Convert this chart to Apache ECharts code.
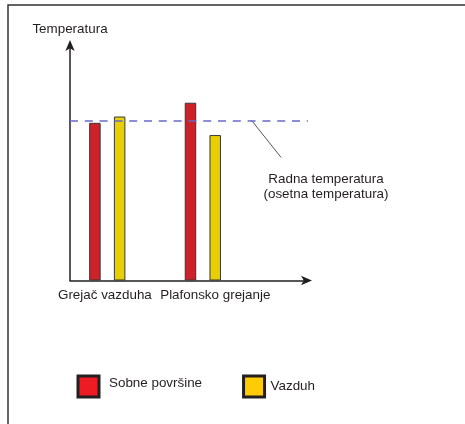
<!DOCTYPE html>
<html>
<head>
<meta charset="utf-8">
<script src="https://cdn.jsdelivr.net/npm/echarts@6/dist/echarts.min.js"></script>
<style>
  html, body { margin: 0; padding: 0; background: #fff; }
  #chart { width: 465px; height: 424px; }
</style>
</head>
<body>
<div id="chart"></div>
<script>
// values (arbitrary temperature scale, axis has no ticks)
var categories = ['Grejač vazduha', 'Plafonsko grejanje'];
var seriesNames = ['Sobne površine', 'Vazduh'];
var surfaceTemp = [20.0, 22.55];
var airTemp = [20.8, 18.45];
var operativeTemp = 20.3;

var textColor = '#231f20';
var font = 'Liberation Sans, Arial, sans-serif';

var myChart = echarts.init(document.getElementById('chart'));

myChart.setOption({
  animation: false,
  grid: { left: 70, right: 157, top: 44, bottom: 143.5 },
  xAxis: {
    type: 'value',
    min: -0.39,
    max: 2.1,
    splitLine: { show: false },
    axisTick: { show: false },
    axisLine: {
      onZero: false,
      symbol: ['none', 'arrow'],
      symbolSize: [7, 11],
      symbolOffset: [0, 4],
      lineStyle: { color: textColor, width: 1.5 }
    },
    axisLabel: {
      customValues: [-0.025, 1.13],
      formatter: function (v) { return categories[Math.round(v)]; },
      color: textColor,
      fontFamily: font,
      fontSize: 13.4,
      margin: 8
    }
  },
  yAxis: {
    type: 'value',
    min: 0,
    max: 30,
    name: 'Temperatura',
    nameLocation: 'end',
    nameGap: 8,
    nameTextStyle: { color: textColor, fontFamily: font, fontSize: 13.4 },
    splitLine: { show: false },
    axisTick: { show: false },
    axisLabel: { show: false },
    axisLine: {
      onZero: false,
      symbol: ['none', 'arrow'],
      symbolSize: [7, 11],
      symbolOffset: [0, 4],
      lineStyle: { color: textColor, width: 1.5 }
    }
  },
  legend: {
    left: 76.5,
    top: 374.5,
    padding: 0,
    itemWidth: 21,
    itemHeight: 21,
    itemGap: 40,
    icon: 'rect',
    data: [
      { name: seriesNames[0], itemStyle: { color: '#ed1c24', borderColor: '#231f20', borderWidth: 3 } },
      { name: seriesNames[1], itemStyle: { color: '#ffcb05', borderColor: '#231f20', borderWidth: 3 } }
    ],
    formatter: function (name) {
      return name === seriesNames[0] ? '{a|' + name + '}' : '{b|' + name + '}';
    },
    textStyle: {
      color: textColor,
      fontFamily: font,
      fontSize: 13.4,
      rich: {
        a: { color: textColor, fontFamily: font, fontSize: 13.4, padding: [0, 0, 7, 5] },
        b: { color: textColor, fontFamily: font, fontSize: 13.4, padding: [0, 0, 0, 1] }
      }
    }
  },
  series: [
    {
      name: seriesNames[0],
      type: 'bar',
      barWidth: 11.5,
      barGap: '115%',
      data: surfaceTemp.map(function (v, i) { return [i, v]; }),
      itemStyle: { color: '#cc2229', borderColor: '#3a3a3a', borderWidth: 1 },
      markLine: {
        silent: true,
        symbol: 'none',
        label: { show: false },
        lineStyle: { color: '#6a6ac8', width: 1.5, type: [8, 6.8] },
        data: [{ yAxis: operativeTemp }]
      }
    },
    {
      name: seriesNames[1],
      type: 'bar',
      barWidth: 11.5,
      data: airTemp.map(function (v, i) { return [i, v]; }),
      itemStyle: { color: '#e8cf00', borderColor: '#3a3a3a', borderWidth: 1 }
    }
  ]
});

// leader line from the operative temperature line to its note
var p = myChart.convertToPixel({ gridIndex: 0 }, [1.51, operativeTemp]);

myChart.setOption({
  graphic: [
    {
      type: 'rect',
      silent: true,
      shape: { x: 8, y: 5, width: 600, height: 600 },
      style: { fill: 'none', stroke: '#333', lineWidth: 1.5 }
    },
    {
      type: 'line',
      silent: true,
      shape: { x1: p[0], y1: p[1], x2: p[0] + 29.5, y2: p[1] + 37 },
      style: { stroke: '#555', lineWidth: 1 }
    },
    {
      type: 'text',
      silent: true,
      x: 326,
      y: 171.5,
      style: {
        text: 'Radna temperatura\n(osetna temperatura)',
        fill: textColor,
        font: '13.4px ' + font,
        align: 'center',
        verticalAlign: 'top',
        lineHeight: 15.4
      }
    }
  ]
});
</script>
</body>
</html>
